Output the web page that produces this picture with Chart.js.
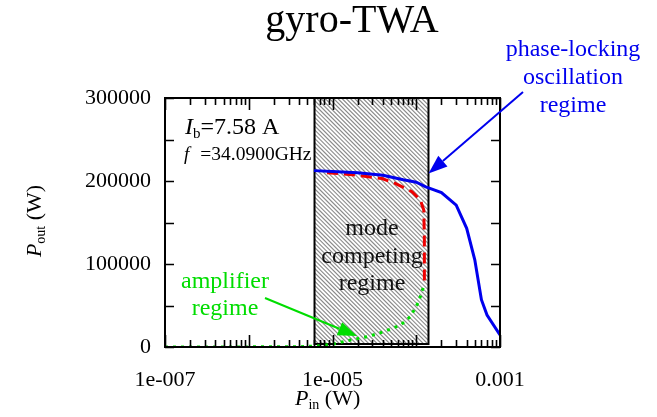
<!DOCTYPE html>
<html>
<head>
<meta charset="utf-8">
<script src="https://cdn.jsdelivr.net/npm/chart.js@4/dist/chart.umd.min.js"></script>
<style>
  body { margin: 0; background: #fff; }
  #chart { display: block; }
</style>
</head>
<body>
<canvas id="chart" width="657" height="417"></canvas>
<script>
// Phase-locking oscillation branch (blue, solid)
const lockingPin  = [6e-6, 1e-5, 2e-5, 4e-5, 7e-5, 1e-4, 1.3e-4, 2e-4, 3e-4, 4e-4, 5e-4, 6e-4, 7e-4, 1e-3];
const lockingPout = [212500, 211500, 210000, 207000, 201500, 198500, 193000, 186000, 171000, 143000, 105000, 57000, 38500, 14500];

// Mode competing branch (red, dashed)
const competingPin  = [8.6e-6, 1.87e-5, 3.9e-5, 5.6e-5, 8.9e-5, 1.12e-4, 1.23e-4, 1.25e-4, 1.25e-4];
const competingPout = [210000, 207200, 203000, 197200, 187100, 177100, 165000, 129000, 76000];

// Amplifier branch (green, dotted)
const amplifierPin  = [1e-7, 1e-6, 4.1e-6, 6.5e-6, 1.03e-5, 1.63e-5, 2.6e-5, 4.1e-5, 6.5e-5, 8.5e-5, 1.07e-4, 1.25e-4];
const amplifierPout = [0, 150, 400, 1200, 3600, 8400, 12400, 18400, 26500, 36500, 54600, 76000];

// Shaded band where the modes compete
const bandPin  = [6.1e-6, 1.4e-4];
const bandPout = [3600, 300000];

const xTickValues = [1e-7, 1e-5, 1e-3];
const xTickLabels = ['1e-007', '1e-005', '0.001'];
const yTickValues = [0, 100000, 200000, 300000];
const yTickLabels = ['0', '100000', '200000', '300000'];

const SERIF = "'Liberation Serif', 'Times New Roman', serif";
const BLUE = '#0000ee';
const RED = '#ee0000';
const GREEN = '#00dd00';

function pairs(xs, ys) {
  return xs.map((x, i) => ({ x: x, y: ys[i] }));
}

// draw a run of text pieces (for sub-scripts), left aligned at x
function richWidth(ctx, parts) {
  let w = 0;
  parts.forEach(p => { ctx.font = p.font; w += ctx.measureText(p.t).width; });
  return w;
}
function drawRich(ctx, parts, x, y) {
  parts.forEach(p => {
    ctx.font = p.font;
    ctx.fillText(p.t, x + (p.dx || 0), y + (p.dy || 0));
    x += ctx.measureText(p.t).width + (p.dx || 0);
  });
}

function arrow(ctx, x1, y1, x2, y2, color) {
  const a = Math.atan2(y2 - y1, x2 - x1);
  const len = 19, half = 7;
  const bx = x2 - len * Math.cos(a), by = y2 - len * Math.sin(a);
  ctx.strokeStyle = color;
  ctx.fillStyle = color;
  ctx.lineWidth = 2;
  ctx.beginPath();
  ctx.moveTo(x1, y1);
  ctx.lineTo(bx, by);
  ctx.stroke();
  ctx.beginPath();
  ctx.moveTo(x2, y2);
  ctx.lineTo(bx + half * Math.sin(a), by - half * Math.cos(a));
  ctx.lineTo(bx - half * Math.sin(a), by + half * Math.cos(a));
  ctx.closePath();
  ctx.fill();
}

const decorations = {
  id: 'decorations',
  beforeDatasetsDraw(chart) {
    const ctx = chart.ctx, xs = chart.scales.x, ys = chart.scales.y;
    const l = xs.getPixelForValue(bandPin[0]), r = xs.getPixelForValue(bandPin[1]);
    const t = ys.getPixelForValue(bandPout[1]), b = ys.getPixelForValue(bandPout[0]);
    ctx.save();
    ctx.fillStyle = '#fff';
    ctx.fillRect(l, t, r - l, b - t);
    ctx.beginPath();
    ctx.rect(l, t, r - l, b - t);
    ctx.clip();
    ctx.strokeStyle = '#8c8c8c';
    ctx.lineWidth = 1.15;
    ctx.beginPath();
    for (let k = l - (b - t); k < r + 10; k += 4.2) {
      ctx.moveTo(k, t);
      ctx.lineTo(k + (b - t), b);
    }
    ctx.stroke();
    ctx.restore();
    ctx.save();
    ctx.strokeStyle = '#000';
    ctx.lineWidth = 2;
    ctx.strokeRect(l, t, r - l, b - t);
    ctx.restore();
  },
  afterDatasetsDraw(chart) {
    const ctx = chart.ctx, xs = chart.scales.x, ys = chart.scales.y;
    const a = chart.chartArea;
    ctx.save();
    ctx.strokeStyle = '#000';

    // x ticks: every 1..9 per decade, longer at decades, inside top and bottom
    ctx.beginPath();
    for (let e = -7; e <= -3; e++) {
      for (let m = 1; m <= 9; m++) {
        const v = m * Math.pow(10, e);
        if (v > 1.0001e-3) break;
        const px = Math.round(xs.getPixelForValue(v)) + 0.5;
        const len = m === 1 ? 12 : 7;
        ctx.moveTo(px, a.bottom); ctx.lineTo(px, a.bottom - len);
        ctx.moveTo(px, a.top); ctx.lineTo(px, a.top + len);
      }
    }
    ctx.lineWidth = 1.6;
    ctx.stroke();

    // y ticks every 50000, inside left and right
    ctx.beginPath();
    for (let v = 0; v <= 300000; v += 50000) {
      const py = Math.round(ys.getPixelForValue(v)) + 0.5;
      ctx.moveTo(a.left, py); ctx.lineTo(a.left + 9, py);
      ctx.moveTo(a.right, py); ctx.lineTo(a.right - 9, py);
    }
    ctx.lineWidth = 1.6;
    ctx.stroke();

    ctx.lineWidth = 2;
    ctx.strokeRect(a.left, a.top, a.right - a.left, a.bottom - a.top);

    // annotations inside the frame
    ctx.fillStyle = '#000';
    ctx.textBaseline = 'alphabetic';
    ctx.textAlign = 'left';
    drawRich(ctx, [
      { t: 'I', font: 'italic 24px ' + SERIF },
      { t: 'b', font: '15px ' + SERIF, dy: 4 },
      { t: '=7.58 A', font: '24px ' + SERIF }
    ], 185, 134);
    drawRich(ctx, [
      { t: 'f', font: 'italic 19px ' + SERIF },
      { t: '=34.0900GHz', font: '19.5px ' + SERIF, dx: 11 }
    ], 184, 160);

    ctx.textAlign = 'center';
    ctx.font = '24px ' + SERIF;
    ctx.fillStyle = '#111';
    ['mode', 'competing', 'regime'].forEach((s, i) => ctx.fillText(s, 372, 235 + i * 27.5));

    ctx.fillStyle = GREEN;
    ['amplifier', 'regime'].forEach((s, i) => ctx.fillText(s, 225, 288 + i * 27));

    ctx.fillStyle = BLUE;
    ['phase-locking', 'oscillation', 'regime'].forEach((s, i) => ctx.fillText(s, 573, 56 + i * 28));

    arrow(ctx, 265, 298, 357, 336, GREEN);
    arrow(ctx, 523, 92, 428.5, 173.5, BLUE);

    // title
    ctx.fillStyle = '#000';
    ctx.font = '40px ' + SERIF;
    ctx.textAlign = 'center';
    ctx.fillText('gyro-TWA', 352, 32);

    // axis titles with subscripts
    ctx.textAlign = 'left';
    const xt = [
      { t: 'P', font: 'italic 22px ' + SERIF },
      { t: 'in', font: '14px ' + SERIF, dy: 4 },
      { t: ' (W)', font: '22px ' + SERIF }
    ];
    drawRich(ctx, xt, 295, 405);

    const yt = [
      { t: 'P', font: 'italic 22px ' + SERIF },
      { t: 'out', font: '14px ' + SERIF, dy: 4 },
      { t: ' (W)', font: '22px ' + SERIF }
    ];
    ctx.translate(41, 221);
    ctx.rotate(-Math.PI / 2);
    drawRich(ctx, yt, -richWidth(ctx, yt) / 2, 0);
    ctx.restore();
  }
};

new Chart(document.getElementById('chart'), {
  type: 'scatter',
  data: {
    datasets: [
      {
        label: 'phase-locking oscillation',
        data: pairs(lockingPin, lockingPout),
        showLine: true,
        borderColor: BLUE,
        borderWidth: 3,
        pointRadius: 0,
        tension: 0
      },
      {
        label: 'mode competing',
        data: pairs(competingPin, competingPout),
        showLine: true,
        borderColor: RED,
        borderWidth: 3,
        borderDash: [11, 6],
        pointRadius: 0,
        tension: 0
      },
      {
        label: 'amplifier',
        data: pairs(amplifierPin, amplifierPout),
        showLine: true,
        borderColor: GREEN,
        borderWidth: 3,
        borderDash: [3, 5],
        pointRadius: 0,
        tension: 0
      }
    ]
  },
  options: {
    responsive: false,
    animation: false,
    devicePixelRatio: 1,
    layout: { padding: { top: 98, right: 157, bottom: 0, left: 0 } },
    plugins: { legend: { display: false }, tooltip: { enabled: false }, title: { display: false } },
    scales: {
      x: {
        type: 'logarithmic',
        min: 1e-7,
        max: 1e-3,
        grid: { display: false, drawTicks: false },
        border: { display: false },
        afterBuildTicks: s => { s.ticks = xTickValues.map(v => ({ value: v })); },
        afterFit: s => { s.height = 70; },
        ticks: {
          autoSkip: false,
          maxRotation: 0,
          padding: 20,
          color: '#000',
          font: { family: SERIF, size: 22 },
          callback: (v, i) => xTickLabels[i]
        }
      },
      y: {
        min: 0,
        max: 300000,
        grid: { display: false, drawTicks: false },
        border: { display: false },
        afterBuildTicks: s => { s.ticks = yTickValues.map(v => ({ value: v })); },
        afterFit: s => { s.width = 165; },
        ticks: {
          autoSkip: false,
          padding: 14,
          color: '#000',
          font: { family: SERIF, size: 22 },
          callback: (v, i) => yTickLabels[i]
        }
      }
    }
  },
  plugins: [decorations]
});
</script>
</body>
</html>
